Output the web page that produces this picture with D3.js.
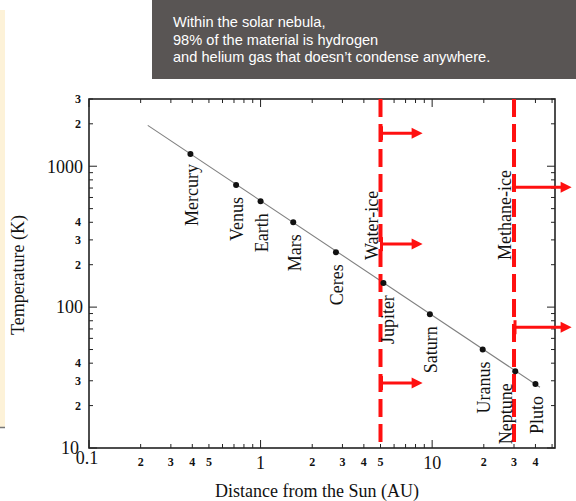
<!DOCTYPE html>
<html><head><meta charset="utf-8">
<script src="https://cdn.jsdelivr.net/npm/d3@7/dist/d3.min.js"></script>
<style>body{margin:0;background:#fff;overflow:hidden}svg{display:block}</style>
</head><body><svg id="c" width="576" height="501"></svg>
<script>
// ---- data ----
const planets = ["Mercury","Venus","Earth","Mars","Ceres","Jupiter","Saturn","Uranus","Neptune","Pluto"];
const distanceAU = [0.39,0.72,1.0,1.55,2.75,5.2,9.7,19.7,30.5,40];
const temperatureK = [1220,735,565,400,245,148,89,50,35,28.5];
const trendAU = [0.22,42.5];
const trendK = [1950,27];
const iceNames = ["Water-ice","Methane-ice"];
const iceAU = [5,30];
const waterArrowK = [1714,280,28.9];
const waterArrowEndAU = 8.8;
const methaneArrowK = [710,72];
const methaneArrowEndAU = 65;
const xMajorTicks = [0.1,1,10];
const xMajorLabels = ["0.1","1","10"];
const xMinorLabelTicks = [0.2,0.3,0.4,0.5,2,3,4,5,20,30,40];
const xMinorLabels = ["2","3","4","5","2","3","4","5","2","3","4"];
const yMajorTicks = [10,100,1000];
const yMajorLabels = ["10","100","1000"];
const yMinorLabelTicks = [20,30,40,200,300,400,2000,3000];
const yMinorLabels = ["2","3","4","2","3","4","2","3"];
const bannerLines = ["Within the solar nebula,","98% of the material is hydrogen","and helium gas that doesn’t condense anywhere."];
const xTitle = "Distance from the Sun (AU)";
const yTitle = "Temperature (K)";

// ---- drawing ----
const svg = d3.select("#c");
const serif = "'Liberation Serif','Times New Roman',serif";
const L = 89, R = 555, T = 99, B = 448;
const x = d3.scaleLog().domain([0.1,52]).range([L,R]);
const y = d3.scaleLog().domain([10,3000]).range([B,T]);
const red = "#ff1010";

svg.append("rect").attr("width",576).attr("height",501).attr("fill","#fff");
// left cream strip
svg.append("rect").attr("x",0).attr("y",10).attr("width",5).attr("height",417).attr("fill","#fdf2d8");
svg.append("line").attr("x1",0).attr("x2",5).attr("y1",427.5).attr("y2",427.5).attr("stroke","#777").attr("stroke-width",1.5);

// banner
svg.append("rect").attr("x",152).attr("y",0).attr("width",424).attr("height",79).attr("fill","#595554");
svg.append("g").selectAll("text").data(bannerLines).join("text")
  .attr("x",173).attr("y",(d,i)=>27+i*17.5)
  .attr("fill","#fff").attr("font-family","'Liberation Sans',Arial,sans-serif").attr("font-size",14.6)
  .text(d=>d);

// ticks
const xAll = [];
[0.1,1,10].forEach(dec=>{for(let k=1;k<=9;k++){const v=k*dec; if(v<=52) xAll.push(v);}});
const yAll = [];
[10,100,1000].forEach(dec=>{for(let k=1;k<=9;k++){const v=k*dec; if(v<=3000) yAll.push(v);}});
const isMajor = v => Math.abs(Math.log10(v)-Math.round(Math.log10(v)))<1e-9;
const tg = svg.append("g").attr("stroke","#222").attr("stroke-width",1);
xAll.forEach(v=>{
  const len = isMajor(v)?8:4, px=x(v);
  tg.append("line").attr("x1",px).attr("x2",px).attr("y1",B).attr("y2",B-len);
  tg.append("line").attr("x1",px).attr("x2",px).attr("y1",T).attr("y2",T+len);
});
yAll.forEach(v=>{
  const len = isMajor(v)?8:4, py=y(v);
  tg.append("line").attr("y1",py).attr("y2",py).attr("x1",L).attr("x2",L+len);
  tg.append("line").attr("y1",py).attr("y2",py).attr("x1",R).attr("x2",R-len);
});
// frame
svg.append("rect").attr("x",L).attr("y",T).attr("width",R-L).attr("height",B-T)
  .attr("fill","none").attr("stroke","#222").attr("stroke-width",1.6);

// tick labels
svg.append("g").selectAll("text").data(xMajorTicks).join("text")
  .attr("x",d=>x(d)-(d===0.1?2:0)).attr("y",d=>d===0.1?464:469)
  .attr("text-anchor","middle").attr("font-family",serif).attr("font-size",18).attr("fill","#111")
  .text((d,i)=>xMajorLabels[i]);
svg.append("g").selectAll("text").data(xMinorLabelTicks).join("text")
  .attr("x",d=>x(d)).attr("y",466)
  .attr("text-anchor","middle").attr("font-family",serif).attr("font-size",12).attr("font-weight","bold").attr("fill","#111")
  .text((d,i)=>xMinorLabels[i]);
svg.append("g").selectAll("text").data(yMajorTicks).join("text")
  .attr("x",d=>d===10?79:83).attr("y",d=>y(d)).attr("dy","0.35em")
  .attr("text-anchor","end").attr("font-family",serif).attr("font-size",18).attr("fill","#111")
  .text((d,i)=>yMajorLabels[i]);
svg.append("g").selectAll("text").data(yMinorLabelTicks).join("text")
  .attr("x",81).attr("y",d=>y(d)).attr("dy","0.35em")
  .attr("text-anchor","end").attr("font-family",serif).attr("font-size",12).attr("font-weight","bold").attr("fill","#111")
  .text((d,i)=>yMinorLabels[i]);

// axis titles
svg.append("text").attr("x",317).attr("y",497).attr("text-anchor","middle")
  .attr("font-family",serif).attr("font-size",18).attr("fill","#111").text(xTitle);
svg.append("text").attr("transform","translate(24,275) rotate(-90)").attr("text-anchor","middle")
  .attr("font-family",serif).attr("font-size",18).attr("fill","#111").text(yTitle);

// trend line
svg.append("path").datum(trendAU.map((a,i)=>[a,trendK[i]]))
  .attr("d",d3.line().x(d=>x(d[0])).y(d=>y(d[1])))
  .attr("stroke","#808080").attr("stroke-width",1.1).attr("fill","none");

// ice lines
svg.append("g").selectAll("line").data(iceAU).join("line")
  .attr("x1",d=>x(d)).attr("x2",d=>x(d)).attr("y1",T).attr("y2",B)
  .attr("stroke",red).attr("stroke-width",4).attr("stroke-dasharray","18,7");

// points
svg.append("g").selectAll("circle").data(distanceAU).join("circle")
  .attr("cx",d=>x(d)).attr("cy",(d,i)=>y(temperatureK[i])).attr("r",3).attr("fill","#111");

// planet labels
svg.append("g").selectAll("text").data(planets).join("text")
  .attr("transform",(d,i)=>{
    const px = x(distanceAU[i]) + (d==="Neptune"?-10:(d==="Jupiter"?4:1));
    const py = y(temperatureK[i]) + (d==="Mercury"?10:12);
    return `translate(${px},${py}) rotate(-90)`;})
  .attr("text-anchor","end").attr("dy","0.35em")
  .attr("font-family",serif).attr("font-size",18).attr("fill","#111").text(d=>d);

// ice labels
svg.append("g").selectAll("text").data(iceNames).join("text")
  .attr("transform",(d,i)=>`translate(${x(iceAU[i])-9},260) rotate(-90)`)
  .attr("text-anchor","start").attr("dy","0.35em")
  .attr("font-family",serif).attr("font-size",18).attr("fill","#111").text(d=>d);

// arrows
function arrow(au0, au1, k, bar){
  const x0=x(au0), x1=x(au1), py=y(k);
  svg.append("line").attr("x1",x0).attr("x2",x1-9).attr("y1",py).attr("y2",py)
    .attr("stroke",red).attr("stroke-width",3);
  svg.append("path").attr("d",`M${x1},${py} L${x1-11},${py-5.5} L${x1-11},${py+5.5} Z`).attr("fill",red);
  if(bar) svg.append("line").attr("x1",x0+1).attr("x2",x0+1).attr("y1",py-7).attr("y2",py+7)
    .attr("stroke",red).attr("stroke-width",3);
}
waterArrowK.forEach(k=>arrow(iceAU[0], waterArrowEndAU, k, true));
methaneArrowK.forEach((k,i)=>arrow(iceAU[1], methaneArrowEndAU, k, i===1));
</script></body></html>
